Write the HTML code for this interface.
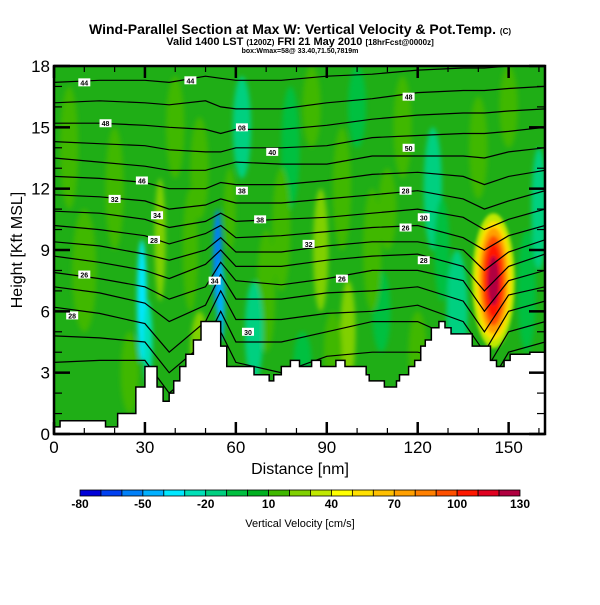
<!DOCTYPE html>
<html><head><meta charset="utf-8"><style>
body{margin:0;background:#fff;width:600px;height:600px;overflow:hidden;font-family:"Liberation Sans",sans-serif}
svg text{font-family:"Liberation Sans",sans-serif}
</style></head><body>
<svg id="chart" width="600" height="600" viewBox="0 0 600 600" xmlns="http://www.w3.org/2000/svg">
<defs>
<clipPath id="plotclip"><rect x="54" y="66" width="491" height="368"/></clipPath>
<filter id="blur" x="-50%" y="-50%" width="200%" height="200%"><feGaussianBlur stdDeviation="2.5"/></filter>
<filter id="blur2" x="-50%" y="-50%" width="200%" height="200%"><feGaussianBlur stdDeviation="1.5"/></filter>
</defs>
<text x="300" y="34" text-anchor="middle" font-size="14" font-weight="bold">Wind-Parallel Section at Max W: Vertical Velocity &amp; Pot.Temp. <tspan font-size="8">(C)</tspan></text>
<text x="300" y="45" text-anchor="middle" font-size="11" font-weight="bold">Valid 1400 LST <tspan font-size="8">(1200Z)</tspan> FRI 21 May 2010 <tspan font-size="8">[18hrFcst@0000z]</tspan></text>
<text x="300" y="53" text-anchor="middle" font-size="7" font-weight="bold">box:Wmax=58@ 33.40,71.50,7819m</text>
<g id="plot" clip-path="url(#plotclip)">
<rect x="54" y="66" width="491" height="368" fill="#1fae16"/>
<g id="patches" filter="url(#blur)"></g>
<g id="updraft" filter="url(#blur2)"></g>
<g id="contours"></g>
<g id="clabels"></g>
<path id="terrain" fill="#fff" stroke="#000" stroke-width="1.5"/>
</g>
<rect x="54" y="66" width="491" height="368" fill="none" stroke="#000" stroke-width="2.5"/>
<g id="axes"></g>
<text x="300" y="474" text-anchor="middle" font-size="16">Distance [nm]</text>
<text transform="translate(22,250) rotate(-90)" text-anchor="middle" font-size="16">Height [Kft MSL]</text>
<g id="colorbar"></g>
<text x="300" y="527" text-anchor="middle" font-size="11">Vertical Velocity [cm/s]</text>
</svg>
<script>
const NS="http://www.w3.org/2000/svg";
// ---- data ----
const terrainDist=[0,2,17,21,27,30,34,36,38,39.5,41.5,43.5,46,48.5,55,57,66,71,72.5,75,78,81,85,88,93,96,103,104,109,113,114,117,119,121,122.5,124.5,127,129,131,136,138,144,146,148.5,150.5,157,162];
const terrainH=[0.35,0.65,0.35,1.0,2.3,3.3,2.3,1.6,2.0,2.6,3.3,3.9,4.6,5.5,4.3,3.3,2.9,2.6,2.9,3.3,3.6,3.3,3.6,3.3,3.6,3.3,2.9,2.6,2.3,2.6,2.9,3.3,3.6,4.3,4.6,5.2,5.5,5.2,4.9,4.9,4.3,3.6,3.3,3.6,3.9,4.0,4.0];
const contourDist=[0,15,30,38,50,55,60,75,90,105,120,135,142,150,162];
const contourLevels=[
[17.2,17.3,17.3,17.2,17.5,17.4,17.3,17.3,17.5,17.6,17.8,17.9,17.9,18,18],
[16.2,16.3,16.2,16.1,16.3,16.0,15.9,15.9,16.2,16.4,16.7,16.8,16.8,16.9,17],
[15.2,15.2,15.1,15.0,14.9,14.7,14.9,14.9,15.1,15.4,15.6,15.7,15.7,15.8,15.9],
[14.3,14.2,14.1,13.9,13.8,13.8,14.0,14.0,14.1,14.5,14.6,14.7,14.7,14.8,15],
[13.5,13.3,13.1,12.9,12.9,13.1,13.3,13.2,13.2,13.6,13.6,13.6,13.5,13.8,14],
[12.6,12.5,12.3,12.0,12.0,12.3,12.2,12.2,12.4,12.7,12.8,12.6,12.2,12.6,12.9],
[11.7,11.6,11.4,11.0,11.2,11.5,11.3,11.3,11.5,11.7,11.9,11.5,11.0,11.4,11.9],
[10.9,10.8,10.5,10.1,10.4,10.8,10.4,10.5,10.6,10.8,11.0,10.6,10.0,10.5,11.0],
[10.2,10.0,9.7,9.3,9.8,10.2,9.6,9.7,9.9,10.1,10.2,9.6,9.0,9.7,10.2],
[9.4,9.2,8.8,8.5,9.0,9.6,8.9,8.9,9.2,9.4,9.4,9.0,8.0,8.9,9.5],
[8.7,8.4,8.0,7.6,8.3,9.0,8.2,8.2,8.5,8.7,8.8,8.2,7.0,8.2,8.8],
[7.9,7.6,7.2,6.6,7.2,8.4,7.5,7.3,7.6,8.0,8.0,7.5,6.0,7.5,8.0],
[7.2,6.9,6.4,5.5,6.3,7.8,6.6,6.6,6.9,7.0,7.2,6.5,5.0,6.8,7.2],
[6.2,5.9,5.4,4.0,5.5,7.0,5.6,5.6,5.9,6.0,6.3,5.5,4.0,6.0,6.5],
[4.8,4.7,4.5,3.0,4.5,6.0,4.5,4.5,5.0,5.5,5.5,4.5,3.0,5.0,5.5],
[3.5,3.6,3.6,2.0,3.5,5.0,3.5,3.0,3.8,4.0,4.0,3.5,2.0,4.0,4.5]];
// velocity patches: [distance, height, radius-nm, radius-kft, w cm/s]
const patchDist=[29,31,54,55,35,48,62,88,97,108,125,133,100,20,70,48,78,82,110,160,10,40,58,75,95,115,140,156,25,66,85,105,128,5,45,150,120,92];
const patchH=[6.5,4.5,8.5,6.5,9.5,13,15,9,5,6,12,6,16,12,7,4,14,3.5,11,11,8,15,11,10,12,15,14,7,3,5,16,9,9,14,9,16,4,4];
const patchRd=[1.6,1.5,1.5,1.3,1.8,3,3,2.5,2.5,3,3,3.5,3,3,3,3,3,3,3,2.5,4,3,2,3,3,3,3,3,3,3,3,3,2.5,3,2.5,3,3,3];
const patchRh=[3,2,2.5,2,3,2.5,2.5,3,2.5,2,3,3,2,3,3,2,3,1.5,2,3,3,2.5,2,3,3,2.5,2.5,3,2,2.5,2,3,2.5,3,3,2,2,2];
const patchW=[-35,-30,-55,-45,25,15,-15,22,25,-10,-15,-15,-10,15,15,20,-10,-10,15,-20,12,15,15,12,12,15,12,-10,15,-15,12,12,-10,15,12,12,12,15];
const updraftR=[[7,3.3,35],[5.8,2.9,50],[4.8,2.6,70],[3.8,2.2,90],[2.8,1.8,105],[1.8,1.2,120]];
const updraftD=145, updraftHc=7.5;
const cbLevels=[-80,-70,-60,-50,-40,-30,-20,-10,0,10,20,30,40,50,60,70,80,90,100,110,120];
const cbColors=["#0000d8","#0040f0","#0080f8","#00b0ff","#00e8ff","#00e0b8","#00d080","#00c040","#00b020","#40b800","#80d000","#c0e800","#ffff00","#ffe000","#ffc000","#ffa000","#ff8000","#ff5000","#ff1800","#e00020","#b00040"];
const cbTicks=[-80,-50,-20,10,40,70,100,130];
const xTicks=[0,30,60,90,120,150];
const yTicks=[0,3,6,9,12,15,18];
const labelTexts=[["44",10,17.2],["44",45,17.3],["48",17,15.2],["08",62,15.0],["40",72,13.8],["50",117,14.0],["48",117,16.5],["46",29,12.4],["38",62,11.9],["38",68,10.5],["32",20,11.5],["28",116,11.9],["30",122,10.6],["32",84,9.3],["26",116,10.1],["34",34,10.7],["26",10,7.8],["28",6,5.8],["28",33,9.5],["34",53,7.5],["30",64,5.0],["26",95,7.6],["28",122,8.5]];
// ---- axis functions ----
const X=d=>54+d*491/162, Y=h=>434-h*368/18;
const SX=491/162, SY=368/18;
function colorFor(w){let i=0;for(let k=0;k<cbLevels.length;k++)if(w>=cbLevels[k])i=k;return cbColors[i];}
function mk(tag,attrs,parent){const e=document.createElementNS(NS,tag);for(const k in attrs)e.setAttribute(k,attrs[k]);parent.appendChild(e);return e;}
const pg=document.getElementById('patches');
patchDist.forEach((d,i)=>{
 const e=mk('ellipse',{cx:X(d),cy:Y(patchH[i]),rx:patchRd[i]*SX,ry:patchRh[i]*SY,fill:colorFor(patchW[i])},pg);
 
 
});
const ug=document.getElementById('updraft');
updraftR.forEach(r=>{
 const e=mk('ellipse',{cx:X(updraftD),cy:Y(updraftHc),rx:r[0]*SX,ry:r[1]*SY,fill:colorFor(r[2])},ug);
 
 
});
const cg=document.getElementById('contours');
contourLevels.forEach((arr)=>{
 const pts=arr.map((h,i)=>X(contourDist[i]).toFixed(1)+','+Y(h).toFixed(1)).join(' ');
 const e=mk('polyline',{points:pts,fill:'none',stroke:'#000','stroke-width':1.2},cg);
 
 
});
const lg=document.getElementById('clabels');
labelTexts.forEach(l=>{
 const x=X(l[1]),y=Y(l[2]);
 const r=mk('rect',{x:x-6,y:y-4,width:12,height:8,fill:'#fff'},lg);
 
 
 const t=mk('text',{x:x,y:y+3,'text-anchor':'middle','font-size':7,'font-weight':'bold'},lg);
 t.textContent=l[0];
 
 
});
let p='M'+X(0)+','+Y(-1);
terrainDist.forEach((d,i)=>{
 if(i>0)p+=' L'+X(d)+','+Y(terrainH[i-1]);
 p+=' L'+X(d)+','+Y(terrainH[i]);
});
p+=' L'+X(163)+','+Y(terrainH[terrainH.length-1])+' L'+X(163)+','+Y(-1)+'Z';
document.getElementById('terrain').setAttribute('d',p);
const ag=document.getElementById('axes');
for(let h=0;h<=18;h++){
 const big=h%3===0,len=big?16:8;
 const a=mk('line',{x1:54,x2:54+len,y1:Y(h),y2:Y(h),stroke:'#000','stroke-width':big?2.5:1.2},ag);
 
 const b=mk('line',{x1:545,x2:545-len,y1:Y(h),y2:Y(h),stroke:'#000','stroke-width':big?2.5:1.2},ag);
 
}
for(let d=0;d<=160;d+=10){
 const big=d%30===0,len=big?12:6;
 const a=mk('line',{x1:X(d),x2:X(d),y1:434,y2:434-len,stroke:'#000','stroke-width':big?2.5:1.2},ag);
 
 const b=mk('line',{x1:X(d),x2:X(d),y1:66,y2:66+len,stroke:'#000','stroke-width':big?2.5:1.2},ag);
 
}
yTicks.forEach(h=>{
 const t=mk('text',{x:50,y:Y(h)+6,'text-anchor':'end','font-size':17},ag);t.textContent=h;
 
});
xTicks.forEach(d=>{
 const t=mk('text',{x:X(d),y:453,'text-anchor':'middle','font-size':17},ag);t.textContent=d;
 
});
const cb=document.getElementById('colorbar');
const cbX=v=>80+(v+80)*440/210;
cbLevels.forEach((v,i)=>{
 const r=mk('rect',{x:cbX(v),y:490,width:440/21,height:6,fill:cbColors[i],stroke:'#000','stroke-width':0.8},cb);
 
});
cbTicks.forEach(v=>{
 const t=mk('text',{x:cbX(v),y:508,'text-anchor':'middle','font-size':12,'font-weight':'bold'},cb);t.textContent=v;
 
});
</script>
</body></html>
